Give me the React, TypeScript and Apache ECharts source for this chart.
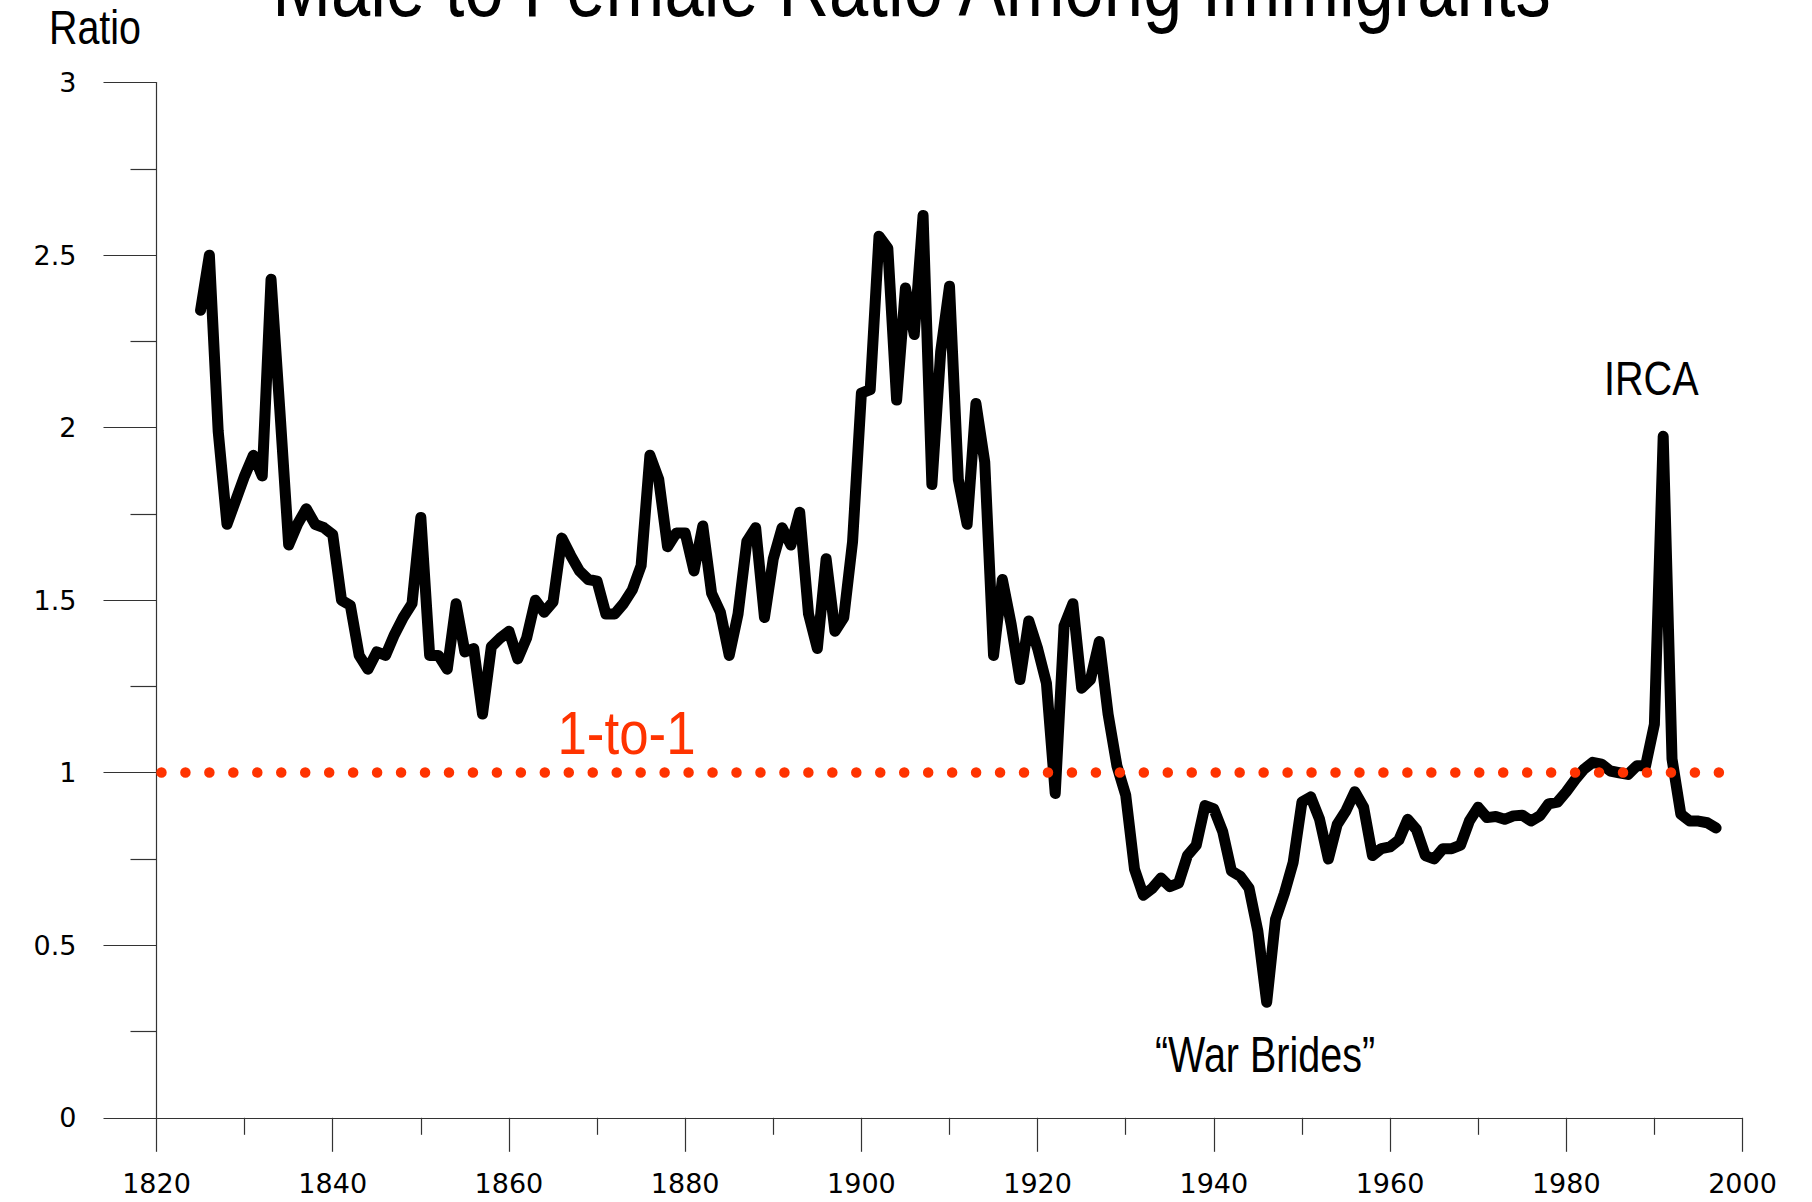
import React, { useEffect, useRef } from "react";
import * as echarts from "echarts";

// ---- data ----
const years = [
  1825, 1826, 1827, 1828, 1829,
  1830, 1831, 1832, 1833, 1834, 1835, 1836, 1837, 1838, 1839,
  1840, 1841, 1842, 1843, 1844, 1845, 1846, 1847, 1848, 1849,
  1850, 1851, 1852, 1853, 1854, 1855, 1856, 1857, 1858, 1859,
  1860, 1861, 1862, 1863, 1864, 1865, 1866, 1867, 1868, 1869,
  1870, 1871, 1872, 1873, 1874, 1875, 1876, 1877, 1878, 1879,
  1880, 1881, 1882, 1883, 1884, 1885, 1886, 1887, 1888, 1889,
  1890, 1891, 1892, 1893, 1894, 1895, 1896, 1897, 1898, 1899,
  1900, 1901, 1902, 1903, 1904, 1905, 1906, 1907, 1908, 1909,
  1910, 1911, 1912, 1913, 1914, 1915, 1916, 1917, 1918, 1919,
  1920, 1921, 1922, 1923, 1924, 1925, 1926, 1927, 1928, 1929,
  1930, 1931, 1932, 1933, 1934, 1935, 1936, 1937, 1938, 1939,
  1940, 1941, 1942, 1943, 1944, 1945, 1946, 1947, 1948, 1949,
  1950, 1951, 1952, 1953, 1954, 1955, 1956, 1957, 1958, 1959,
  1960, 1961, 1962, 1963, 1964, 1965, 1966, 1967, 1968, 1969,
  1970, 1971, 1972, 1973, 1974, 1975, 1976, 1977, 1978, 1979,
  1980, 1981, 1982, 1983, 1984, 1985, 1986, 1987, 1988, 1989,
  1990, 1991, 1992, 1993, 1994, 1995, 1996, 1997,
];

const maleToFemaleRatio = [
  2.34, 2.5, 1.99, 1.72, 1.79,
  1.86, 1.92, 1.86, 2.43, 2.05, 1.66, 1.72, 1.765, 1.72, 1.71,
  1.69, 1.5, 1.485, 1.34, 1.3, 1.35, 1.34, 1.4, 1.45, 1.49,
  1.74, 1.34, 1.34, 1.3, 1.49, 1.35, 1.36, 1.17, 1.365, 1.39,
  1.41, 1.33, 1.39, 1.5, 1.465, 1.495, 1.68, 1.63, 1.585, 1.56,
  1.555, 1.46, 1.46, 1.49, 1.53, 1.6, 1.92, 1.85, 1.655, 1.695,
  1.695, 1.585, 1.715, 1.52, 1.465, 1.34, 1.46, 1.67, 1.71, 1.45,
  1.62, 1.71, 1.66, 1.755, 1.46, 1.36, 1.62, 1.41, 1.45, 1.67,
  2.1, 2.11, 2.555, 2.52, 2.08, 2.405, 2.27, 2.615, 1.835, 2.22,
  2.41, 1.85, 1.72, 2.07, 1.9, 1.34, 1.56, 1.43, 1.27, 1.44,
  1.36, 1.26, 0.94, 1.425, 1.49, 1.245, 1.27, 1.38, 1.17, 1.02,
  0.935, 0.72, 0.645, 0.665, 0.695, 0.67, 0.68, 0.76, 0.79, 0.905,
  0.895, 0.83, 0.715, 0.7, 0.665, 0.54, 0.335, 0.575, 0.65, 0.74,
  0.915, 0.93, 0.865, 0.75, 0.85, 0.89, 0.945, 0.9, 0.76, 0.78,
  0.785, 0.805, 0.865, 0.835, 0.76, 0.75, 0.78, 0.78, 0.79, 0.86,
  0.9, 0.87, 0.873, 0.865, 0.875, 0.877, 0.86, 0.875, 0.91, 0.915,
  0.945, 0.98, 1.01, 1.03, 1.025, 1.005, 1.0, 0.995, 1.02, 1.02,
  1.14, 1.975, 1.04, 0.88, 0.86, 0.86, 0.855, 0.84,
];

const xAxisMin = 1820;
const xAxisMax = 2000;
const xAxisStep = 20;
const yAxisMin = 0;
const yAxisMax = 3;
const yAxisStep = 0.5;
const parityLevel = 1;

const titleText = "Male to Female Ratio Among Immigrants";
const yAxisTitle = "Ratio";
const parityLabel = "1-to-1";
const ircaLabel = "IRCA";
const warBridesLabel = "\u201CWar Brides\u201D";

const ACCENT = "#ff3300";
const AXIS_COLOR = "#333333";
const LABEL_FONT = "'DejaVu Sans', Verdana, sans-serif";
const NOTE_FONT = "'Liberation Sans', Arial, sans-serif";

export default function App() {
  const ref = useRef<HTMLDivElement>(null);

  useEffect(() => {
    if (!ref.current) return;
    const chart = echarts.init(ref.current, undefined, { renderer: "svg" });
    const seriesData = years.map((y, i) => [y, maleToFemaleRatio[i]]);

    chart.setOption({
      animation: false,
      backgroundColor: "#ffffff",
      grid: { left: 156.5, right: 69.5, top: 82.6, bottom: 84.2, containLabel: false },
      xAxis: {
        type: "value",
        min: xAxisMin,
        max: xAxisMax,
        interval: xAxisStep,
        axisLine: { show: true, onZero: false, lineStyle: { color: AXIS_COLOR, width: 1.2 } },
        axisTick: { show: true, inside: false, length: 34, lineStyle: { color: AXIS_COLOR, width: 1.2 } },
        minorTick: { show: true, splitNumber: 2, length: 17, lineStyle: { color: AXIS_COLOR, width: 1.2 } },
        splitLine: { show: false },
        minorSplitLine: { show: false },
        axisLabel: {
          show: true,
          margin: 55,
          color: "#000",
          fontFamily: LABEL_FONT,
          fontSize: 27,
          lineHeight: 22,
          showMinLabel: true,
          showMaxLabel: true,
          formatter: (v: number) => String(v),
        },
      },
      yAxis: {
        type: "value",
        min: yAxisMin,
        max: yAxisMax,
        interval: yAxisStep,
        axisLine: { show: true, onZero: false, lineStyle: { color: AXIS_COLOR, width: 1.2 } },
        axisTick: { show: true, inside: false, length: 53, lineStyle: { color: AXIS_COLOR, width: 1.2 } },
        minorTick: { show: true, splitNumber: 2, length: 26, lineStyle: { color: AXIS_COLOR, width: 1.2 } },
        splitLine: { show: false },
        minorSplitLine: { show: false },
        axisLabel: {
          show: true,
          margin: 80,
          color: "#000",
          fontFamily: LABEL_FONT,
          fontSize: 27,
          showMinLabel: true,
          showMaxLabel: true,
          formatter: (v: number) => String(v),
        },
      },
      series: [
        {
          name: "Ratio",
          type: "line",
          data: seriesData,
          showSymbol: false,
          symbol: "none",
          silent: true,
          z: 2,
          lineStyle: { color: "#000", width: 11, cap: "round", join: "round" },
          emphasis: { disabled: true },
        },
        {
          name: "Parity",
          type: "line",
          data: [],
          silent: true,
          z: 3,
          markLine: {
            silent: true,
            symbol: ["none", "none"],
            label: { show: false },
            emphasis: { disabled: true },
            lineStyle: {
              color: ACCENT,
              width: 10.5,
              type: [0.01, 23.95],
              dashOffset: 19.45,
              cap: "round",
            },
            data: [{ yAxis: parityLevel }],
          },
        },
      ],
      graphic: [
        {
          type: "text",
          x: 911.5,
          y: -14.5,
          scaleX: 0.802,
          silent: true,
          style: {
            text: titleText,
            fill: "#000",
            fontSize: 88,
            fontFamily: NOTE_FONT,
            align: "center",
            textAlign: "center",
            verticalAlign: "middle",
            textVerticalAlign: "middle",
          },
        },
        {
          type: "text",
          x: 49,
          y: 27,
          scaleX: 0.83,
          silent: true,
          style: {
            text: yAxisTitle,
            fill: "#000",
            fontSize: 47.5,
            fontFamily: NOTE_FONT,
            align: "left",
            textAlign: "left",
            verticalAlign: "middle",
            textVerticalAlign: "middle",
          },
        },
        {
          type: "text",
          x: 626.5,
          y: 754 - 0.3465 * 61.5,
          scaleX: 0.86,
          silent: true,
          style: {
            text: parityLabel,
            fill: ACCENT,
            fontSize: 61.5,
            fontFamily: NOTE_FONT,
            align: "center",
            textAlign: "center",
            verticalAlign: "middle",
            textVerticalAlign: "middle",
          },
        },
        {
          type: "text",
          x: 1651.3,
          y: 395 - 0.3465 * 48,
          scaleX: 0.825,
          silent: true,
          style: {
            text: ircaLabel,
            fill: "#000",
            fontSize: 48,
            fontFamily: NOTE_FONT,
            align: "center",
            textAlign: "center",
            verticalAlign: "middle",
            textVerticalAlign: "middle",
          },
        },
        {
          type: "text",
          x: 1265,
          y: 1071.7 - 0.3465 * 50,
          scaleX: 0.79,
          silent: true,
          style: {
            text: warBridesLabel,
            fill: "#000",
            fontSize: 50,
            fontFamily: NOTE_FONT,
            align: "center",
            textAlign: "center",
            verticalAlign: "middle",
            textVerticalAlign: "middle",
          },
        },
      ],
    });

    return () => chart.dispose();
  }, []);

  return (
    <div
      ref={ref}
      style={{ position: "absolute", left: 0, top: 0, width: 1812, height: 1202, background: "#fff" }}
    />
  );
}
